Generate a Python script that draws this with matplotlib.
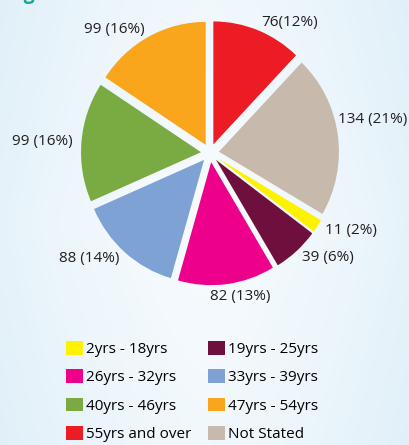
import matplotlib.pyplot as plt
import numpy as np
from matplotlib.colors import LinearSegmentedColormap

# 데이터 (legend order)
categories = ['2yrs - 18yrs', '19yrs - 25yrs', '26yrs - 32yrs', '33yrs - 39yrs',
              '40yrs - 46yrs', '47yrs - 54yrs', '55yrs and over', 'Not Stated']
counts = [11, 39, 82, 88, 99, 99, 76, 134]
slice_labels = ['11 (2%)', '39 (6%)', '82 (13%)', '88 (14%)',
                '99 (16%)', '99 (16%)', '76(12%)', '134 (21%)']
colors = ['#fff200', '#6e0f3d', '#ec008c', '#7fa2d4',
          '#7aaa42', '#f9a61c', '#ed1c24', '#c7b9ab']

plt.rcParams['font.family'] = ['Open Sans', 'DejaVu Sans']

fig = plt.figure(figsize=(4.1, 4.45), dpi=100)

# 배경 그라데이션
bg = fig.add_axes([0, 0, 1, 1])
xx = np.linspace(-1, 1, 300)
yy = np.linspace(-1, 1, 300)
X, Y = np.meshgrid(xx, yy)
grad = np.clip(0.55 * np.abs(X) ** 1.5 + 0.2 * np.abs(Y), 0, 1)
cmap = LinearSegmentedColormap.from_list('bg', ['#f7fbfe', '#d9ecf7'])
bg.imshow(grad, cmap=cmap, extent=[0, 1, 0, 1], aspect='auto', vmin=0, vmax=1)
bg.axis('off')

# 제목 (잘려 있음)
fig.text(0.018, 1.0 + 1.0 / 445, 'Figure', color='#19a99a', fontsize=14,
         fontweight='bold', va='baseline')

# 파이 차트 (가로 120px, 세로 123px 반지름)
ax = fig.add_axes([35 / 410, 117 / 445, 350 / 410, 350 / 445])
start = 90 + 360 * sum(counts[:6]) / sum(counts)
wedges, texts = ax.pie(counts, colors=colors, labels=slice_labels,
                       explode=[0.075] * len(counts), startangle=start,
                       counterclock=False, labeldistance=1.07,
                       textprops=dict(fontsize=11, color='#231f20'))
# 라벨 위치 조정
texts[2].set_position((0.0, -1.17))
texts[2].set_ha('left')
texts[7].set_position((1.07, 0.27))
ax.set_aspect('auto')
ax.set_xlim(-175 / 120, 175 / 120)
ax.set_ylim(-175 / 123, 175 / 123)
ax.axis('off')

# 범례 (row by row)
order = [0, 2, 4, 6, 1, 3, 5, 7]
fig.legend([wedges[i] for i in order], [categories[i] for i in order],
           ncol=2, loc='upper left', bbox_to_anchor=(66 / 410, 1 - 341 / 445),
           frameon=False, handlelength=1.1, handleheight=1.0,
           handletextpad=0.2, columnspacing=1.1, labelspacing=0.8,
           fontsize=11, borderpad=0, borderaxespad=0)

fig.savefig('out.png', dpi=100)
